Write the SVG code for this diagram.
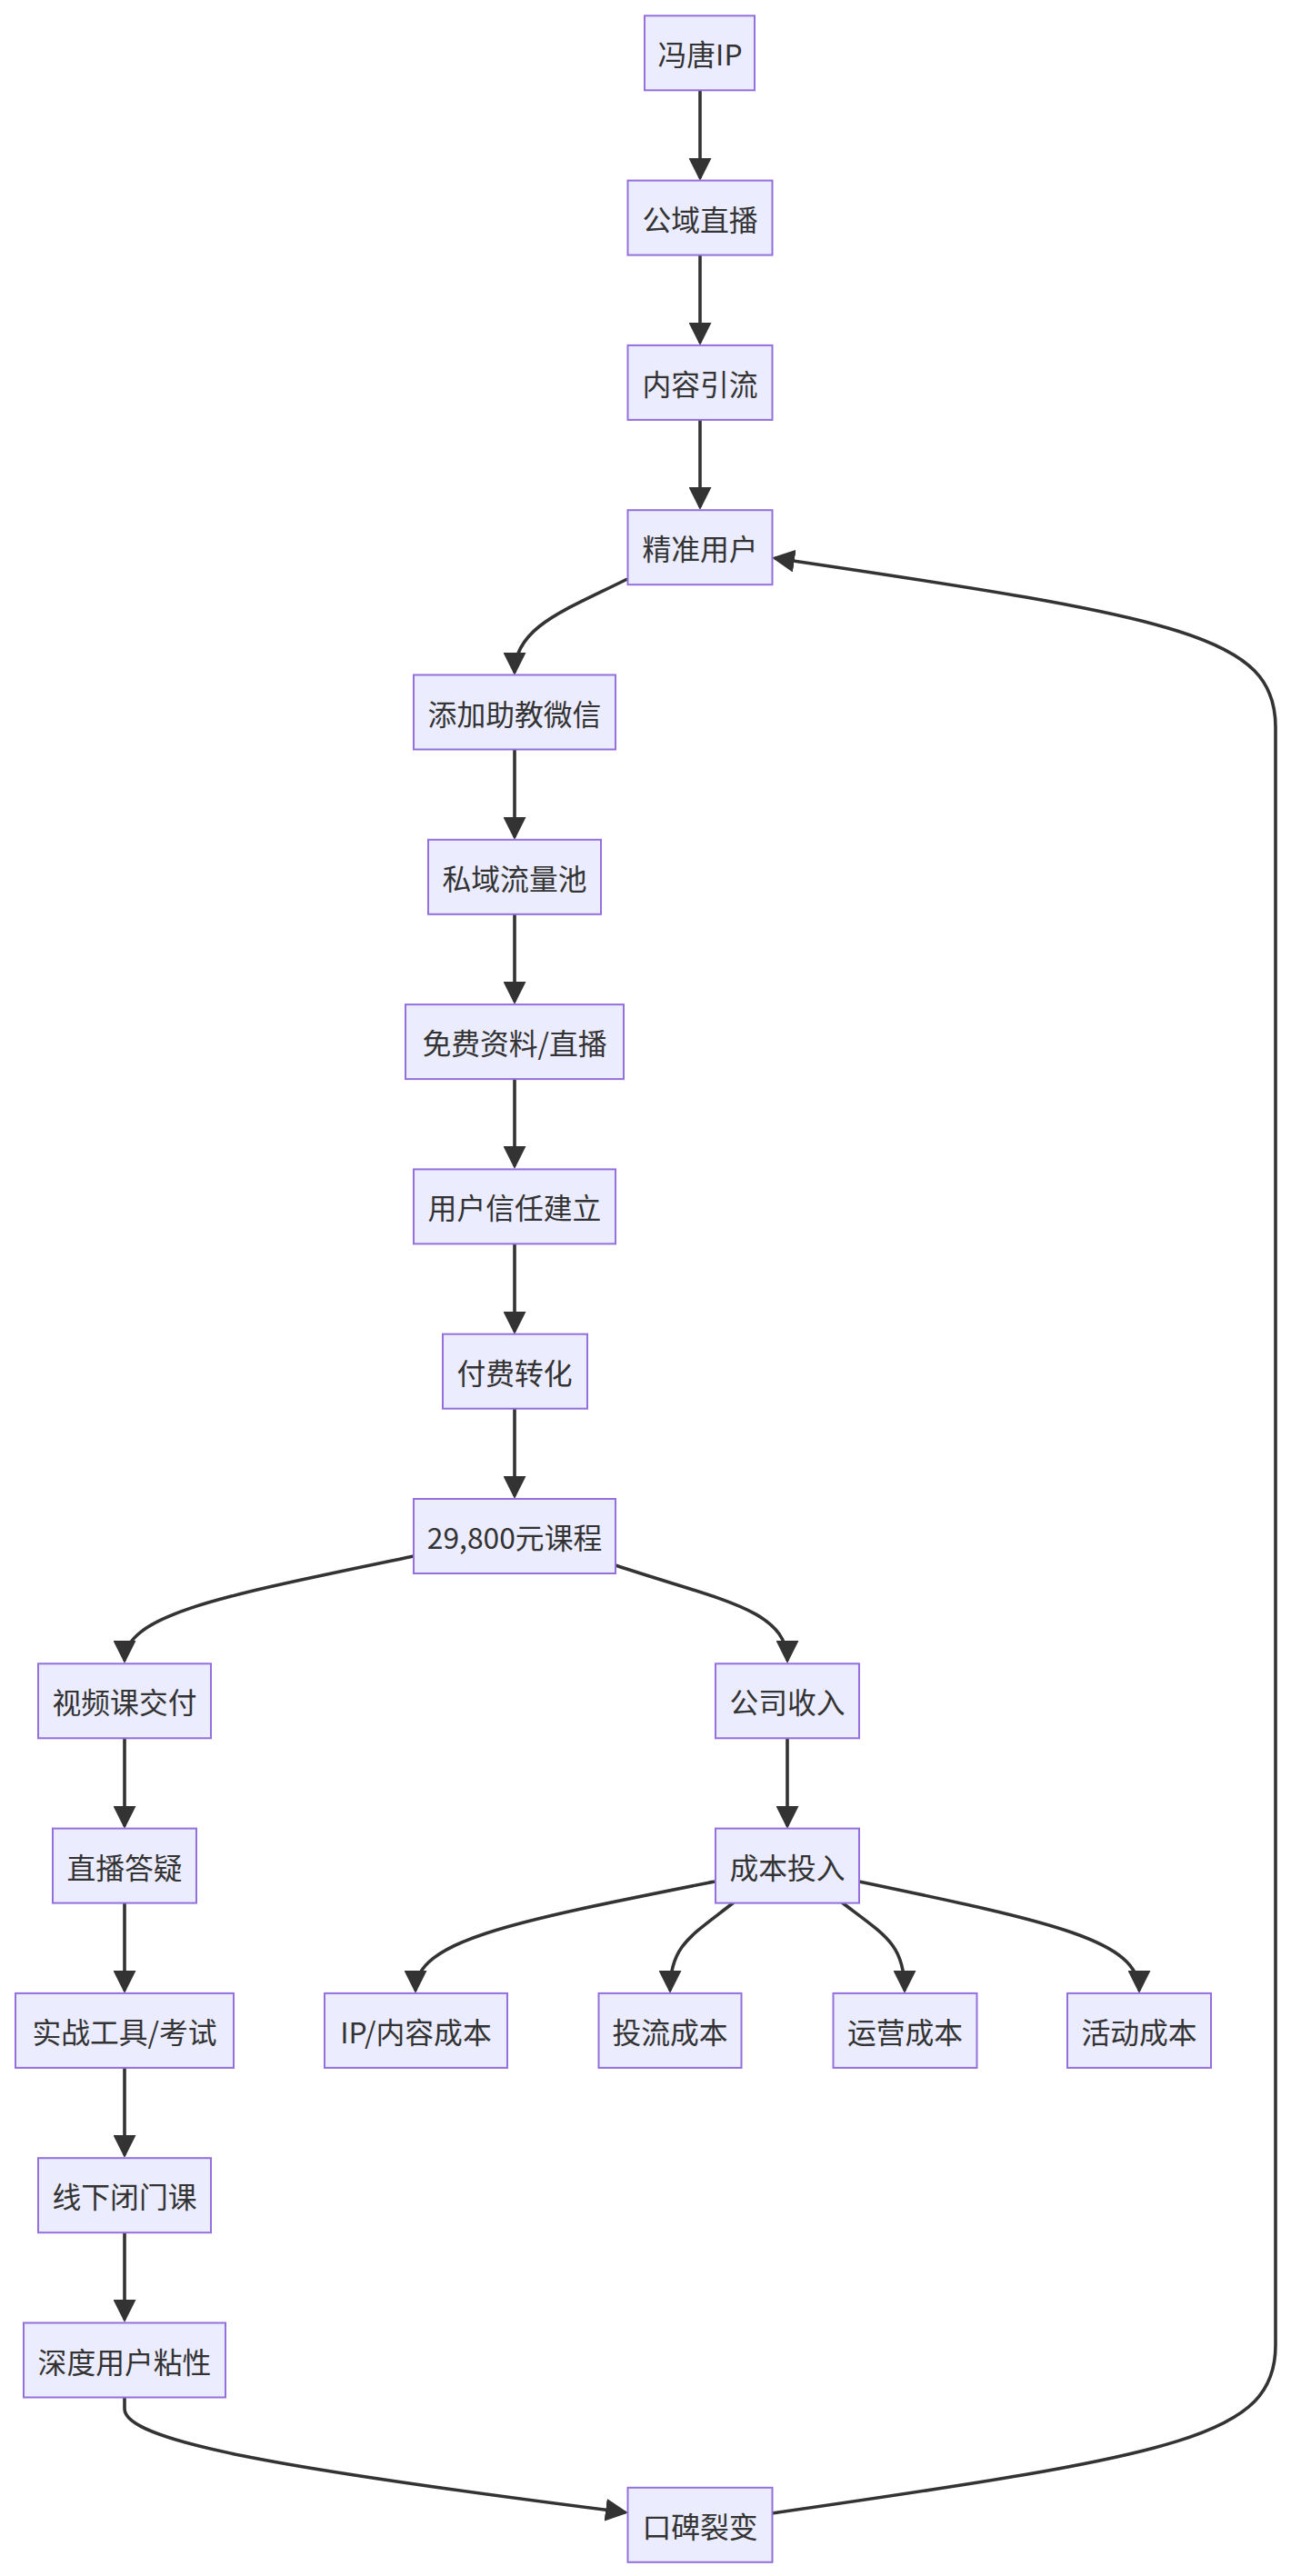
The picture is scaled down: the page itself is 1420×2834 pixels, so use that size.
<svg xmlns="http://www.w3.org/2000/svg" width="1420" height="2834" viewBox="0 0 1420 2834">
<style>
.node rect{fill:#ECECFF;stroke:#9370DB;stroke-width:2}
.node text{font-family:"Noto Sans CJK SC","Noto Sans",sans-serif;font-size:31.8px;fill:#333;text-anchor:middle;dominant-baseline:central}
.edges path{fill:none;stroke:#333;stroke-width:3.6;marker-end:url(#arr)}
</style>
<defs>
<marker id="arr" viewBox="0 0 10 10" refX="8.8" refY="5" markerUnits="userSpaceOnUse" markerWidth="25" markerHeight="25" orient="auto">
<path d="M0,0 L10,5 L0,10 z" fill="#333"/>
</marker>
</defs>
<rect width="1420" height="2834" fill="#fff"/>
<g id="edges" class="edges">
<path d="M770,99 L770,196"/>
<path d="M770,281 L770,377"/>
<path d="M770,462 L770,558"/>
<path d="M690,637 C620,672 566,690 566,740"/>
<path d="M566,825 L566,921"/>
<path d="M566,1006 L566,1102"/>
<path d="M566,1187 L566,1283"/>
<path d="M566,1368 L566,1465"/>
<path d="M566,1550 L566,1646"/>
<path d="M455,1712 C250,1755 137,1775 137,1827"/>
<path d="M677,1722 C790,1760 866,1770 866,1827"/>
<path d="M137,1912 L137,2009"/>
<path d="M137,2094 L137,2190"/>
<path d="M137,2275 L137,2371"/>
<path d="M137,2456 L137,2552"/>
<path d="M866,1912 L866,2009"/>
<path d="M786,2070 C560,2115 457,2135 457,2190"/>
<path d="M807,2093 C760,2130 737,2140 737,2190"/>
<path d="M926,2093 C975,2130 995,2140 995,2190"/>
<path d="M945,2070 C1160,2115 1253,2135 1253,2190"/>
<path d="M137,2637 L137,2650 C137,2685 300,2715 688,2764"/>
<path d="M849,2765 C1300,2700 1403,2680 1403,2580 L1403,800 C1403,700 1300,680 852,614"/>
</g>
<g id="n0" class="node"><rect x="709" y="17.3" width="121" height="82"/><text x="770" y="58.3">冯唐IP</text></g>
<g id="n1" class="node"><rect x="690.5" y="198.6" width="159" height="82"/><text x="770" y="239.6">公域直播</text></g>
<g id="n2" class="node"><rect x="690.5" y="379.9" width="159" height="82"/><text x="770" y="420.9">内容引流</text></g>
<g id="n3" class="node"><rect x="690.5" y="561.2" width="159" height="82"/><text x="770" y="602.2">精准用户</text></g>
<g id="n4" class="node"><rect x="455" y="742.5" width="222" height="82"/><text x="566" y="783.5">添加助教微信</text></g>
<g id="n5" class="node"><rect x="471" y="923.8" width="190" height="82"/><text x="566" y="964.8">私域流量池</text></g>
<g id="n6" class="node"><rect x="446" y="1105.1" width="240" height="82"/><text x="566" y="1146.1">免费资料/直播</text></g>
<g id="n7" class="node"><rect x="455" y="1286.4" width="222" height="82"/><text x="566" y="1327.4">用户信任建立</text></g>
<g id="n8" class="node"><rect x="487" y="1467.7" width="159" height="82"/><text x="566" y="1508.7">付费转化</text></g>
<g id="n9" class="node"><rect x="455" y="1649" width="222" height="82"/><text x="566" y="1690">29,800元课程</text></g>
<g id="n10" class="node"><rect x="42" y="1830.3" width="190" height="82"/><text x="137" y="1871.3">视频课交付</text></g>
<g id="n11" class="node"><rect x="58" y="2011.6" width="158" height="82"/><text x="137" y="2052.6">直播答疑</text></g>
<g id="n12" class="node"><rect x="17" y="2192.9" width="240" height="82"/><text x="137" y="2233.9">实战工具/考试</text></g>
<g id="n13" class="node"><rect x="42" y="2374.2" width="190" height="82"/><text x="137" y="2415.2">线下闭门课</text></g>
<g id="n14" class="node"><rect x="26" y="2555.5" width="222" height="82"/><text x="137" y="2596.5">深度用户粘性</text></g>
<g id="n15" class="node"><rect x="690.5" y="2736.8" width="159" height="82"/><text x="770" y="2777.8">口碑裂变</text></g>
<g id="n16" class="node"><rect x="787" y="1830.3" width="158" height="82"/><text x="866" y="1871.3">公司收入</text></g>
<g id="n17" class="node"><rect x="787" y="2011.6" width="158" height="82"/><text x="866" y="2052.6">成本投入</text></g>
<g id="n18" class="node"><rect x="357" y="2192.9" width="201" height="82"/><text x="457.5" y="2233.9">IP/内容成本</text></g>
<g id="n19" class="node"><rect x="658.5" y="2192.9" width="157" height="82"/><text x="737" y="2233.9">投流成本</text></g>
<g id="n20" class="node"><rect x="916.5" y="2192.9" width="158" height="82"/><text x="995.5" y="2233.9">运营成本</text></g>
<g id="n21" class="node"><rect x="1174" y="2192.9" width="158" height="82"/><text x="1253" y="2233.9">活动成本</text></g>
</svg>
